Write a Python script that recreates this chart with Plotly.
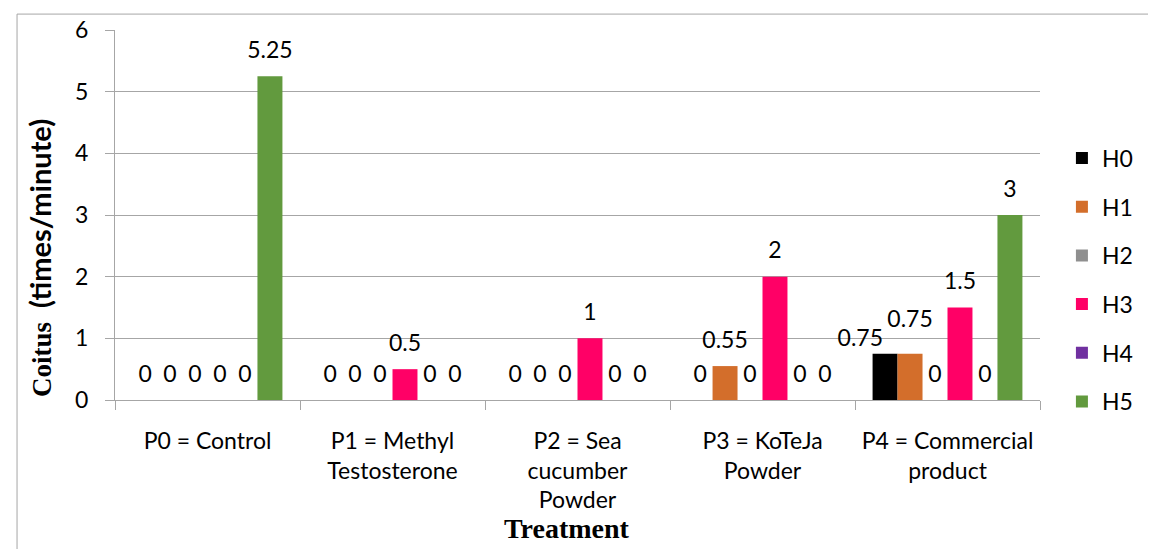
import plotly.graph_objects as go

categories = ["P0 = Control", "P1 = Methyl<br>Testosterone", "P2 = Sea<br>cucumber<br>Powder",
              "P3 = KoTeJa<br>Powder", "P4 = Commercial<br>product"]
series_names = ["H0", "H1", "H2", "H3", "H4", "H5"]
H0 = [0, 0, 0, 0, 0.75]
H1 = [0, 0, 0, 0.55, 0.75]
H2 = [0, 0, 0, 0, 0]
H3 = [0, 0.5, 1, 2, 1.5]
H4 = [0, 0, 0, 0, 0]
H5 = [5.25, 0, 0, 0, 3]
series_values = [H0, H1, H2, H3, H4, H5]
colors = ["#000000", "#D36E2B", "#8F8F8F", "#FF0066", "#7030A0", "#629A3E"]
y_ticks = [0, 1, 2, 3, 4, 5, 6]
x_title = "Treatment"
y_title_a = "Coitus"
y_title_b = "(times/minute)"

# label placement tweaks (styling only): gap in px between point and label
LABEL_GAP = 12.75
label_gap = {(0, 4): 2, (1, 4): 21}
label_pos = {(0, 4): "top left"}

label_font = dict(family="Lato, Carlito, sans-serif", size=23, color="#000000")
grid_col = "#A6A6A6"

fig = go.Figure()
for name, vals, col in zip(series_names, series_values, colors):
    fig.add_trace(go.Bar(
        name=name, x=categories, y=vals, marker=dict(color=col, line=dict(width=0)),
        offsetgroup=name, legendgroup=name,
    ))
for si, (name, vals) in enumerate(zip(series_names, series_values)):
    texts, sizes, poss = [], [], []
    for ci, v in enumerate(vals):
        texts.append(f"{v:g}")
        sizes.append(1.6 * (label_gap.get((si, ci), LABEL_GAP) - 1))
        poss.append(label_pos.get((si, ci), "top center"))
    fig.add_trace(go.Scatter(
        x=categories, y=vals, mode="markers+text", text=texts,
        textposition=poss, textfont=label_font,
        marker=dict(size=sizes, opacity=0), offsetgroup=name, showlegend=False,
        hoverinfo="skip", cliponaxis=False,
    ))

fig.update_layout(
    barmode="group", scattermode="group", bargap=0.19, bargroupgap=0,
    width=1156, height=549,
    margin=dict(l=107, r=124, t=22, b=157, autoexpand=False),
    paper_bgcolor="white", plot_bgcolor="white",
    font=dict(family="Lato, Carlito, sans-serif", size=23, color="#000000"),
    legend=dict(x=1.0237, y=0.712, xanchor="left", yanchor="top", font=dict(size=23),
                tracegroupgap=15.8, traceorder="grouped", itemwidth=30),
    xaxis=dict(
        automargin=False,
        showgrid=False, showline=True, linecolor=grid_col, linewidth=1,
        ticks="outside", tickson="boundaries", ticklen=9, tickcolor=grid_col,
        tickfont=label_font, ticklabelstandoff=20,
    ),
    yaxis=dict(
        automargin=False,
        range=[0, 6], tickvals=y_ticks, showgrid=True, gridcolor=grid_col, gridwidth=1,
        showline=True, linecolor=grid_col, linewidth=1, zeroline=False,
        ticks="outside", ticklen=9, tickcolor=grid_col, tickfont=label_font,
        ticklabelstandoff=12,
    ),
    annotations=[
        dict(text=f"<b>{x_title}</b>", xref="paper", yref="paper", x=0.4886, y=-0.346,
             xanchor="center", yanchor="middle", showarrow=False,
             font=dict(family="Liberation Serif, serif", size=28, color="#000000")),
        dict(text=f"<b><span style='font-family:Liberation Serif, serif;font-size:27px'>{y_title_a}</span>"
                  f"  {y_title_b}</b>",
             xref="paper", yref="paper", x=-0.081, y=0.384, textangle=-90,
             xanchor="center", yanchor="middle", showarrow=False,
             font=dict(family="Lato, sans-serif", size=29, color="#000000")),
    ],
    shapes=[dict(type="rect", xref="paper", yref="paper", x0=-0.1059, x1=1.3, y0=-0.5, y1=1.043,
                 line=dict(color=grid_col, width=1), fillcolor="rgba(0,0,0,0)", layer="below")],
)

fig.write_html("out.html")
